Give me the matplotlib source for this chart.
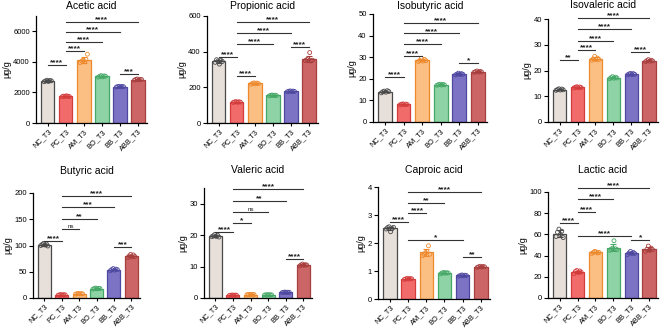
import matplotlib
matplotlib.use("Agg")
import matplotlib.pyplot as plt
import numpy as np

plt.rcParams['font.family'] = ['Liberation Sans', 'DejaVu Sans']

groups = ["NC_T3", "PC_T3", "AM_T3", "BO_T3", "BB_T3", "ABB_T3"]
titles = ["Acetic acid", "Propionic acid", "Isobutyric acid", "Isovaleric acid",
          "Butyric acid", "Valeric acid", "Caproic acid", "Lactic acid"]

acetic = [[2700, 2750, 2800, 2720, 2780, 2760],
          [1720, 1760, 1740, 1780, 1750, 1730],
          [3950, 4050, 4100, 4000, 4150, 4500],
          [3000, 3050, 3100, 3020, 3080, 3060],
          [2350, 2380, 2400, 2360, 2390, 2370],
          [2800, 2850, 2880, 2820, 2860, 2840]]
propionic = [[340, 355, 348, 330, 352, 345],
             [115, 118, 120, 116, 119, 117],
             [218, 222, 225, 220, 224, 221],
             [152, 155, 157, 154, 156, 153],
             [175, 178, 180, 176, 179, 177],
             [350, 355, 360, 395, 348, 352]]
isobutyric = [[13.5, 14, 14.3, 13.8, 14.5, 14.1],
              [7.9, 8.2, 8.4, 8.0, 8.3, 8.1],
              [28, 28.5, 29.5, 28.2, 29, 28.4],
              [17, 17.3, 17.5, 17.1, 17.4, 17.2],
              [21.8, 22.2, 22.6, 22, 22.4, 22.1],
              [23, 23.3, 23.6, 23.1, 23.4, 23.2]]
isovaleric = [[12.3, 12.6, 12.9, 12.4, 12.8, 12.5],
              [13.2, 13.5, 13.7, 13.3, 13.6, 13.4],
              [24, 24.5, 25.5, 24.2, 24.8, 24.3],
              [16.8, 17.2, 17.6, 17, 17.4, 17.1],
              [18.3, 18.6, 18.9, 18.4, 18.8, 18.5],
              [23.4, 23.8, 24.2, 23.6, 24, 23.7]]
butyric = [[100, 102, 104, 101, 103, 99],
           [5.5, 6, 6.5, 5.8, 6.2, 6.0],
           [7.5, 8, 8.5, 7.8, 8.2, 8.0],
           [17, 18, 19, 17.5, 18.5, 18],
           [52, 54, 56, 53, 55, 54],
           [77, 80, 83, 78, 82, 79]]
valeric = [[19.5, 19.8, 20.2, 19.6, 20, 19.4],
           [0.85, 0.9, 0.95, 0.88, 0.92, 0.9],
           [1.05, 1.1, 1.15, 1.08, 1.12, 1.1],
           [0.95, 1.0, 1.05, 0.98, 1.02, 1.0],
           [1.7, 1.8, 1.9, 1.75, 1.85, 1.8],
           [10.2, 10.5, 10.8, 10.4, 10.6, 10.5]]
caproic = [[2.5, 2.55, 2.58, 2.4, 2.52, 2.56],
           [0.7, 0.72, 0.74, 0.71, 0.73, 0.72],
           [1.55, 1.6, 1.65, 1.7, 1.9, 1.6],
           [0.9, 0.93, 0.95, 0.92, 0.94, 0.93],
           [0.82, 0.84, 0.86, 0.83, 0.85, 0.84],
           [1.13, 1.15, 1.17, 1.14, 1.16, 1.15]]
lactic = [[58, 62, 65, 60, 63, 57],
          [23, 25, 26, 24, 25.5, 24.5],
          [42, 43, 44, 43.5, 42.5, 43],
          [45, 46, 47, 54, 46.5, 45.5],
          [41, 42.5, 44, 42, 43, 42],
          [44, 46, 49, 45, 47, 45.5]]
datasets = [acetic, propionic, isobutyric, isovaleric, butyric, valeric, caproic, lactic]

ylims = [7000, 600, 50, 40, 200, 35, 4, 100]
yticks = [[0, 2000, 4000, 6000], [0, 200, 400, 600], [0, 10, 20, 30, 40, 50],
          [0, 10, 20, 30, 40], [0, 50, 100, 150, 200], [0, 10, 20, 30],
          [0, 1, 2, 3, 4], [0, 20, 40, 60, 80, 100]]

# brackets: (from, to, label, height)
brackets = [
    [(0, 1, "****", 3780), (1, 2, "****", 4710), (1, 3, "****", 5320),
     (1, 4, "****", 5970), (1, 5, "****", 6620), (4, 5, "***", 3190)],
    [(0, 1, "****", 372), (1, 2, "****", 264), (1, 3, "****", 441),
     (1, 4, "****", 503), (1, 5, "****", 565), (4, 5, "****", 428)],
    [(0, 1, "****", 21), (1, 2, "****", 30.5), (1, 3, "****", 36),
     (1, 4, "****", 41), (1, 5, "****", 46), (4, 5, "*", 27.5)],
    [(0, 1, "**", 24), (1, 2, "****", 27.8), (1, 3, "****", 31.6),
     (1, 4, "****", 36), (1, 5, "****", 40.4), (4, 5, "****", 27)],
    [(0, 1, "****", 109), (1, 2, "ns", 131), (1, 3, "**", 150),
     (1, 4, "***", 173), (1, 5, "****", 195), (4, 5, "***", 96.5)],
    [(0, 1, "****", 20.9), (1, 2, "*", 23.9), (1, 3, "ns", 27.3),
     (1, 4, "**", 31), (1, 5, "****", 34.8), (4, 5, "****", 12.5)],
    [(0, 1, "****", 2.74), (1, 2, "****", 3.06), (1, 3, "**", 3.44),
     (1, 5, "****", 3.81), (1, 4, "*", 2.11), (4, 5, "**", 1.51)],
    [(0, 1, "****", 70.5), (1, 2, "****", 80.8), (1, 3, "****", 93),
     (1, 5, "****", 104), (1, 4, "****", 58.8), (4, 5, "*", 54.7)],
]

fills = ["#E6DFDA", "#F26B6B", "#FBBE83", "#8ED3A5", "#7C73C4", "#CC6666"]
edges = ["#4A4A4A", "#D43C3C", "#EE8A2E", "#45A866", "#4E48A0", "#A83E3E"]

# axes rectangles in pixels: left, right, bottom, top(at ylim), title y
W, H = 666, 328
rects = [(36, 147, 123, 16, 6), (207, 318, 123, 16, 6), (373, 487, 122, 14, 6),
         (548, 658, 122, 19, 5.5),
         (33, 140, 298, 193, 171.5), (204, 312, 298, 188, 170), (378, 490, 299, 187, 170),
         (548, 658, 298, 192, 170)]

fig = plt.figure(figsize=(W / 100, H / 100), dpi=100)
jit = [-0.2, -0.12, -0.04, 0.04, 0.12, 0.2]

for k in range(8):
    l, r, b, t, ty = rects[k]
    ax = fig.add_axes([l / W, 1 - b / H, (r - l) / W, (b - t) / H])
    data = datasets[k]
    x = np.arange(len(groups))
    means = [np.mean(d) for d in data]
    sds = [np.std(d, ddof=1) for d in data]
    ax.bar(x, means, width=0.74, color=fills, edgecolor=edges, linewidth=0.9, zorder=2)
    for i in range(len(groups)):
        ax.errorbar(x[i], means[i], yerr=sds[i], color=edges[i], capsize=2,
                    elinewidth=0.8, capthick=0.8, zorder=3)
        ax.scatter(x[i] + np.array(jit), data[i], s=8, facecolors='none',
                   edgecolors=edges[i], linewidths=0.6, zorder=4)
    for (i, j, lab, h) in brackets[k]:
        ax.plot([i, j], [h, h], color="#333333", lw=0.8, zorder=5, clip_on=False)
        off = ylims[k] * 0.006
        if lab == "ns":
            ax.text((i + j) / 2, h + off, lab, ha='center', va='bottom',
                    fontsize=4.5, color="#222222")
        else:
            ax.text((i + j) / 2, h - ylims[k] * 0.012, lab, ha='center', va='bottom',
                    fontsize=6, fontweight='bold', color="#222222")
    ax.set_xlim(-0.65, 5.5)
    ax.set_ylim(0, ylims[k])
    ax.set_yticks(yticks[k])
    ax.set_xticks(x)
    ax.set_xticklabels(groups, rotation=45, ha='right', rotation_mode='anchor', fontsize=5.3)
    ax.tick_params(axis='y', labelsize=5.5, length=3, width=0.8, pad=1.5)
    ax.tick_params(axis='x', length=2.5, width=0.8, pad=1.2)
    for s in ['top', 'right']:
        ax.spines[s].set_visible(False)
    for s in ['left', 'bottom']:
        ax.spines[s].set_linewidth(0.9)
    ax.set_ylabel("μg/g", fontsize=6.5, labelpad=1.5)
    fig.text((l + r) / 2 / W, 1 - ty / H, titles[k], ha='center', va='center', fontsize=7.5)

fig.savefig("out.png", dpi=100)
